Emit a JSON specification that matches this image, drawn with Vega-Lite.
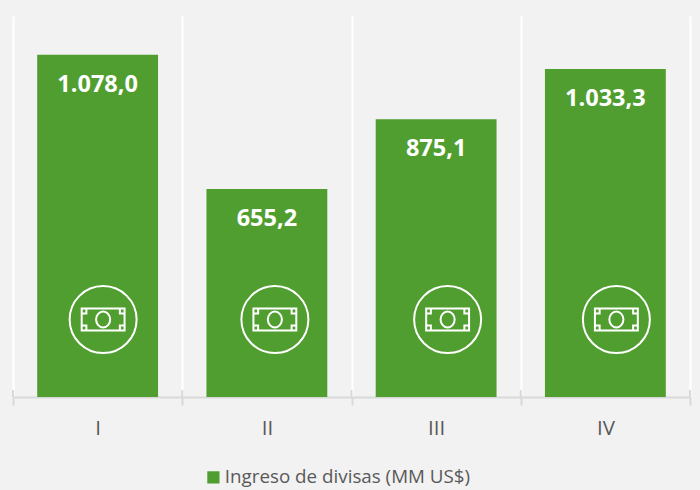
{
 "$schema":"https://vega.github.io/schema/vega-lite/v6.json",
 "width":677,"height":381,
 "autosize":{"type":"none"},
 "padding":{"left":13,"top":16,"right":10,"bottom":93},
 "background":"#F2F2F2",
 "config":{"view":{"stroke":null},"font":"Open Sans"},
 "data":{"values":[
  {"trimestre":"I","valor":1078.0,"etiqueta":"1.078,0","serie":"Ingreso de divisas (MM US$)"},
  {"trimestre":"II","valor":655.2,"etiqueta":"655,2","serie":"Ingreso de divisas (MM US$)"},
  {"trimestre":"III","valor":875.1,"etiqueta":"875,1","serie":"Ingreso de divisas (MM US$)"},
  {"trimestre":"IV","valor":1033.3,"etiqueta":"1.033,3","serie":"Ingreso de divisas (MM US$)"}
 ]},
 "encoding":{
  "x":{"field":"trimestre","type":"nominal","sort":["I","II","III","IV"],"title":null,
   "scale":{"padding":0},
   "axis":{"tickBand":"extent","labelAngle":0,"labelFont":"Open Sans","labelFontSize":20.5,"labelColor":"#595959","labelPadding":13,
    "domainColor":"#D9D9D9","domainWidth":2,"tickColor":"#D9D9D9","tickWidth":2,"tickSize":8,
    "grid":true,"gridColor":"#FFFFFF","gridWidth":2}}
 },
 "layer":[
  {"mark":{"type":"bar","width":{"band":0.714}},
   "encoding":{
    "y":{"field":"valor","type":"quantitative","scale":{"domain":[0,1200]},"axis":null},
    "color":{"field":"serie","type":"nominal","scale":{"range":["#519E30"]},
     "legend":{"title":null,"orient":"none","legendX":191,"legendY":452,"symbolType":"square","symbolSize":150,"symbolStrokeWidth":0,"labelFont":"Open Sans","labelFontSize":18.8,"labelColor":"#595959","labelOffset":2,"labelLimit":400}}}},
  {"mark":{"type":"rule","color":"#D9D9D9","strokeWidth":2},
   "encoding":{"x":{"field":"trimestre","type":"nominal","sort":["I","II","III","IV"],"bandPosition":0},"y":{"datum":0},"y2":{"datum":22}}},
  {"transform":[{"filter":"datum.trimestre === 'IV'"}],
   "mark":{"type":"rule","color":"#D9D9D9","strokeWidth":2},
   "encoding":{"x":{"field":"trimestre","type":"nominal","sort":["I","II","III","IV"],"bandPosition":1},"y":{"datum":0},"y2":{"datum":22}}},
  {"mark":{"type":"text","font":"Open Sans","fontSize":23.5,"fontWeight":"bold","color":"#FFFFFF","dy":30,"baseline":"middle","align":"center"},
   "encoding":{"y":{"field":"valor","type":"quantitative"},"text":{"field":"etiqueta"}}},
  {"transform":[{"filter":"datum.trimestre === 'I'"}],
   "mark":{"type":"point","xOffset":5.5,"filled":false,"stroke":"#FFFFFF","strokeWidth":2,"opacity":1,"size":4489,
    "shape":"M-1,0A1,1,0,1,1,1,0A1,1,0,1,1,-1,0ZM-0.64,-0.33L0.64,-0.33L0.64,0.33L-0.64,0.33ZM-0.21,0A0.21,0.24,0,1,1,0.21,0A0.21,0.24,0,1,1,-0.21,0ZM-0.64,-0.18L-0.5,-0.18L-0.5,-0.33M0.64,-0.18L0.5,-0.18L0.5,-0.33M-0.64,0.18L-0.5,0.18L-0.5,0.33M0.64,0.18L0.5,0.18L0.5,0.33"},
   "encoding":{"y":{"datum":244}}},
  {"transform":[{"filter":"datum.trimestre === 'II'"}],
   "mark":{"type":"point","xOffset":8,"filled":false,"stroke":"#FFFFFF","strokeWidth":2,"opacity":1,"size":4489,
    "shape":"M-1,0A1,1,0,1,1,1,0A1,1,0,1,1,-1,0ZM-0.64,-0.33L0.64,-0.33L0.64,0.33L-0.64,0.33ZM-0.21,0A0.21,0.24,0,1,1,0.21,0A0.21,0.24,0,1,1,-0.21,0ZM-0.64,-0.18L-0.5,-0.18L-0.5,-0.33M0.64,-0.18L0.5,-0.18L0.5,-0.33M-0.64,0.18L-0.5,0.18L-0.5,0.33M0.64,0.18L0.5,0.18L0.5,0.33"},
   "encoding":{"y":{"datum":244}}},
  {"transform":[{"filter":"datum.trimestre === 'III'"}],
   "mark":{"type":"point","xOffset":11.5,"filled":false,"stroke":"#FFFFFF","strokeWidth":2,"opacity":1,"size":4489,
    "shape":"M-1,0A1,1,0,1,1,1,0A1,1,0,1,1,-1,0ZM-0.64,-0.33L0.64,-0.33L0.64,0.33L-0.64,0.33ZM-0.21,0A0.21,0.24,0,1,1,0.21,0A0.21,0.24,0,1,1,-0.21,0ZM-0.64,-0.18L-0.5,-0.18L-0.5,-0.33M0.64,-0.18L0.5,-0.18L0.5,-0.33M-0.64,0.18L-0.5,0.18L-0.5,0.33M0.64,0.18L0.5,0.18L0.5,0.33"},
   "encoding":{"y":{"datum":244}}},
  {"transform":[{"filter":"datum.trimestre === 'IV'"}],
   "mark":{"type":"point","xOffset":11,"filled":false,"stroke":"#FFFFFF","strokeWidth":2,"opacity":1,"size":4489,
    "shape":"M-1,0A1,1,0,1,1,1,0A1,1,0,1,1,-1,0ZM-0.64,-0.33L0.64,-0.33L0.64,0.33L-0.64,0.33ZM-0.21,0A0.21,0.24,0,1,1,0.21,0A0.21,0.24,0,1,1,-0.21,0ZM-0.64,-0.18L-0.5,-0.18L-0.5,-0.33M0.64,-0.18L0.5,-0.18L0.5,-0.33M-0.64,0.18L-0.5,0.18L-0.5,0.33M0.64,0.18L0.5,0.18L0.5,0.33"},
   "encoding":{"y":{"datum":244}}}
 ]
}
